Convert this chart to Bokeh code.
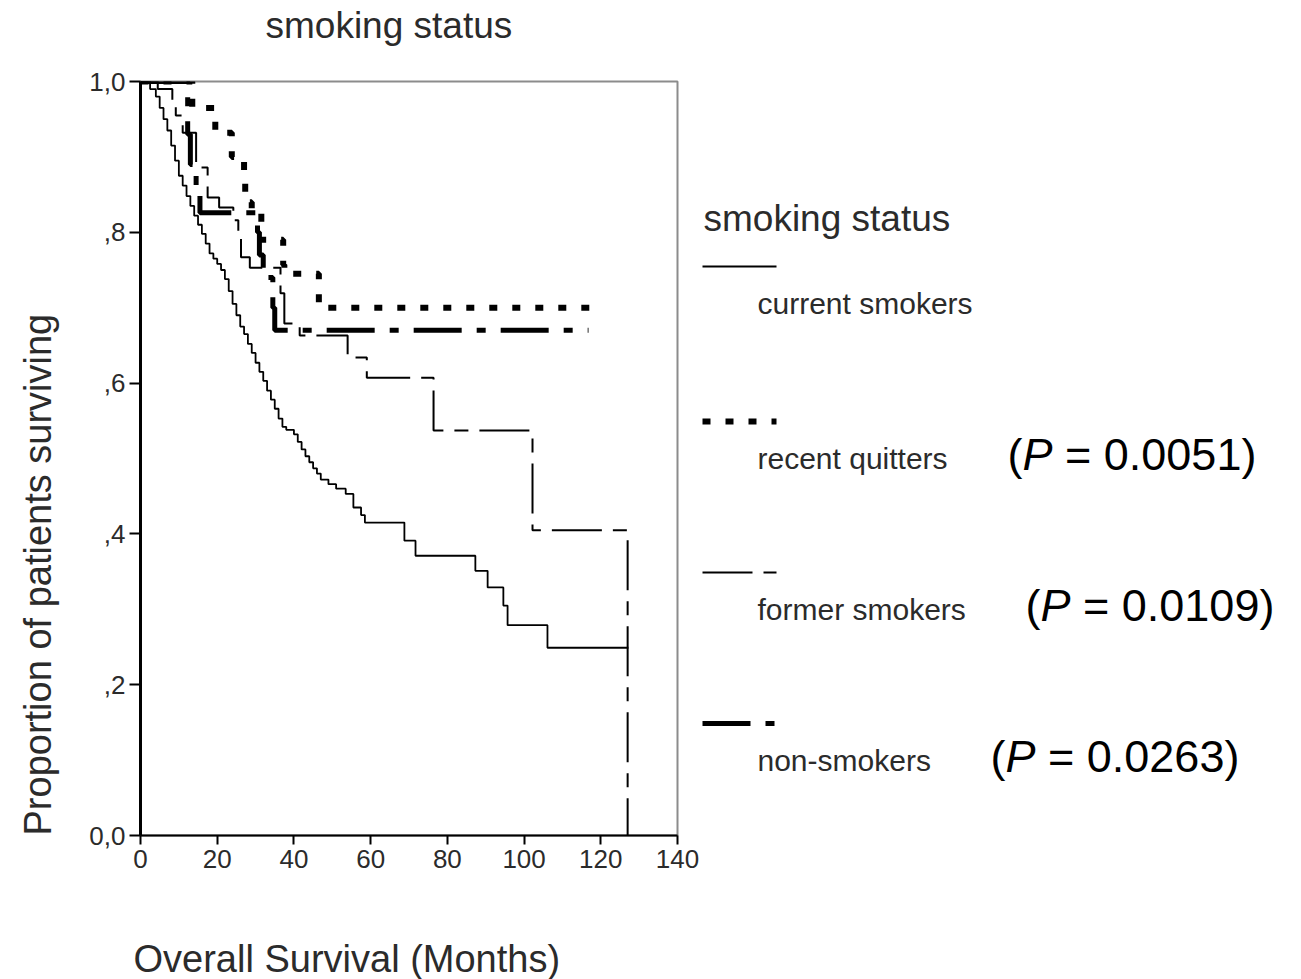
import math

from bokeh.embed import file_html
from bokeh.layouts import column, row
from bokeh.models import FixedTicker, Label, Range1d
from bokeh.plotting import figure
from bokeh.resources import INLINE

# ---------------------------------------------------------------------------
# Kaplan-Meier estimates by smoking status: step times (months) and the
# proportion surviving from that time on.
# ---------------------------------------------------------------------------
current_t = [0, 2.5, 4, 5, 6, 7, 8, 9, 10, 11, 12, 13, 14, 15, 16, 17, 18, 19,
             20, 21, 22, 23, 24, 25, 26, 27, 28, 29, 30, 31, 32, 33, 34, 35,
             36, 37, 38, 40, 41, 42, 43, 44, 45, 46, 47, 49, 51, 53.5, 55.5,
             57.5, 58.5, 68.8, 71.7, 87.3, 90.5, 94.6, 95.7, 106.1, 127.2]
current_s = [1.0, 0.99, 0.98, 0.965, 0.95, 0.935, 0.915, 0.895, 0.875, 0.862,
             0.848, 0.835, 0.822, 0.81, 0.798, 0.785, 0.772, 0.765, 0.758,
             0.75, 0.738, 0.722, 0.705, 0.69, 0.675, 0.665, 0.652, 0.64,
             0.627, 0.615, 0.603, 0.59, 0.578, 0.566, 0.553, 0.542, 0.538,
             0.532, 0.522, 0.512, 0.503, 0.495, 0.487, 0.48, 0.472, 0.466,
             0.46, 0.453, 0.435, 0.425, 0.415, 0.391, 0.371, 0.351, 0.329,
             0.305, 0.279, 0.249, 0.249]

quitters_t = [0, 13.5, 19.5, 23.8, 27.0, 27.3, 29.0, 31.5, 37.2, 37.5, 46.5, 117.2]
quitters_s = [1.0, 0.965, 0.932, 0.90, 0.869, 0.84, 0.826, 0.79, 0.757, 0.745, 0.70, 0.70]

former_t = [0, 4.5, 8.3, 9.2, 11, 14.5, 17.5, 20.5, 24.2, 25.5, 26.2, 28.5,
            36.5, 37.5, 41, 41.5, 54, 59, 76.4, 102.2, 127.0]
former_s = [1.0, 0.99, 0.97, 0.955, 0.932, 0.886, 0.846, 0.833, 0.816, 0.798,
            0.767, 0.753, 0.719, 0.679, 0.674, 0.663, 0.634, 0.607, 0.537,
            0.405, 0.0]

non_t = [0, 12.3, 13.0, 14.5, 15.5, 30.5, 31.0, 32.0, 34.5, 35.0, 116.8]
non_s = [1.0, 0.93, 0.89, 0.86, 0.826, 0.80, 0.77, 0.74, 0.70, 0.67, 0.67]

group_names = ["current smokers", "recent quitters", "former smokers", "non-smokers"]
p_values = [None, "0.0051", "0.0109", "0.0263"]

x_ticks = [0, 20, 40, 60, 80, 100, 120, 140]
x_tick_labels = ["0", "20", "40", "60", "80", "100", "120", "140"]
y_ticks = [0.0, 0.2, 0.4, 0.6, 0.8, 1.0]
y_tick_labels = ["0,0", ",2", ",4", ",6", ",8", "1,0"]

title_text = "smoking status"
x_label_text = "Overall Survival (Months)"
y_label_text = "Proportion of patients surviving"

# ---------------------------------------------------------------------------
# Page geometry (pixels, y downward)
# ---------------------------------------------------------------------------
PAGE_W, PAGE_H = 1301, 979
HEAD_H = 60                    # strip holding the plot title
ROW_BOTTOM = 890               # bottom of the row holding the plot
FOOT_H = PAGE_H - ROW_BOTTOM   # strip holding the x-axis label
ROW_H = ROW_BOTTOM - HEAD_H
YLAB_W = 75                    # strip holding the y-axis label
MAIN_RIGHT = 700               # right edge of the survival plot canvas
FRAME_L, FRAME_R, FRAME_T, FRAME_B = 140, 677, 81, 835
X_MAX, Y_MAX = 140, 1.0

BORDER_TOP = FRAME_T - HEAD_H
BORDER_BOTTOM = ROW_BOTTOM - FRAME_B

FONT = "Liberation Sans"
INK = "#2b2b2b"

# line styles shared by the curves and their legend samples
styles = {
    "current smokers": dict(line_width=1.8, line_dash="solid"),
    "recent quitters": dict(line_width=6, line_dash="8 15"),
    "former smokers": dict(line_width=2, line_dash="50 11 14 11"),
    "non-smokers": dict(line_width=5, line_dash="48 15 9 15"),
}


def blank_panel(width, height, x_range, y_range, **borders):
    """A figure without axes whose data units are page pixels."""
    f = figure(
        width=width, height=height, x_range=x_range, y_range=y_range,
        output_backend="svg", toolbar_location=None,
        x_axis_location=None, y_axis_location=None, **borders,
    )
    f.grid.visible = False
    f.outline_line_color = None
    f.border_fill_color = "white"
    f.background_fill_color = "white"
    return f


def text_label(x, y, text, size, color=INK, style="normal", angle=0.0):
    return Label(
        x=x, y=y, text=text, angle=angle, text_align="left",
        text_baseline="middle", text_font=FONT, text_font_size=size,
        text_font_style=style, text_color=color,
    )


row_borders = dict(min_border_left=0, min_border_right=0,
                   min_border_top=BORDER_TOP, min_border_bottom=BORDER_BOTTOM)

# ---------------------------------------------------------------------------
# Survival plot
# ---------------------------------------------------------------------------
p = figure(
    width=MAIN_RIGHT - YLAB_W, height=ROW_H,
    x_range=Range1d(0, X_MAX), y_range=Range1d(0, Y_MAX),
    output_backend="svg", toolbar_location=None,
    min_border_left=FRAME_L - YLAB_W, min_border_right=MAIN_RIGHT - FRAME_R,
    min_border_top=BORDER_TOP, min_border_bottom=BORDER_BOTTOM,
)
p.grid.visible = False
p.outline_line_color = "#8c8c8c"
p.outline_line_width = 2
p.background_fill_color = "white"
p.border_fill_color = "white"

p.xaxis.ticker = FixedTicker(ticks=x_ticks)
p.xaxis.major_label_overrides = dict(zip(x_ticks, x_tick_labels))
p.yaxis.ticker = FixedTicker(ticks=y_ticks)
p.yaxis.major_label_overrides = dict(zip(y_ticks, y_tick_labels))

for ax in (p.xaxis[0], p.yaxis[0]):
    ax.minor_tick_line_color = None
    ax.major_tick_in = 0
    ax.major_tick_line_color = "black"
    ax.major_tick_line_width = 2
    ax.axis_line_color = "black"
    ax.major_label_text_font = FONT
    ax.major_label_text_font_size = "26px"
    ax.major_label_text_color = INK
p.xaxis.axis_line_width = 2
p.xaxis.major_tick_out = 9
p.xaxis.major_label_standoff = 5
p.yaxis.axis_line_width = 3
p.yaxis.major_tick_out = 11
p.yaxis.major_label_standoff = 4

curves = [
    ("current smokers", current_t, current_s),
    ("former smokers", former_t, former_s),
    ("non-smokers", non_t, non_s),
    ("recent quitters", quitters_t, quitters_s),
]
for name, t, s in curves:
    p.step(t, s, mode="after", line_color="black", **styles[name])

# ---------------------------------------------------------------------------
# Title strip, y-label strip and x-label strip
# ---------------------------------------------------------------------------
head = blank_panel(PAGE_W, HEAD_H, Range1d(0, PAGE_W), Range1d(HEAD_H, 0),
                   min_border=0)
head.add_layout(text_label(265, 25, title_text, "37px"))

ylab = blank_panel(YLAB_W, ROW_H, Range1d(0, YLAB_W), Range1d(FRAME_B, FRAME_T),
                   **row_borders)
ylab.add_layout(text_label(37, FRAME_B, y_label_text, "38px", angle=math.pi / 2))

foot = blank_panel(PAGE_W, FOOT_H, Range1d(0, PAGE_W), Range1d(PAGE_H, ROW_BOTTOM),
                   min_border=0)
foot.add_layout(text_label(133, 958, x_label_text, "38px"))

# ---------------------------------------------------------------------------
# Legend panel with p-values
# ---------------------------------------------------------------------------
lg = blank_panel(PAGE_W - MAIN_RIGHT, ROW_H, Range1d(MAIN_RIGHT, PAGE_W),
                 Range1d(FRAME_B, FRAME_T), **row_borders)
lg.add_layout(text_label(703, 218, title_text, "37px"))

entry_rows = [266, 421, 572, 723]
sample_x0, sample_x1 = 702, 776
text_x, text_dy = 757, 37
pval_x = [None, 1007, 1025, 990]
PV_SIZE = 45

for name, ry, pv, px in zip(group_names, entry_rows, p_values, pval_x):
    lg.line([sample_x0, sample_x1], [ry, ry], line_color="black", **styles[name])
    lg.add_layout(text_label(text_x, ry + text_dy, name, "30px"))
    if pv is None:
        continue
    ty = ry + text_dy - 4
    paren_w = 0.333 * PV_SIZE
    p_w = 0.667 * PV_SIZE
    size = f"{PV_SIZE}px"
    lg.add_layout(text_label(px, ty, "(", size, color="black"))
    lg.add_layout(text_label(px + paren_w, ty, "P", size, color="black",
                             style="italic"))
    lg.add_layout(text_label(px + paren_w + p_w, ty, f"\u00a0= {pv})", size,
                             color="black"))

page = column(head, row(ylab, p, lg, spacing=0), foot, spacing=0)
open("out.html", "w").write(file_html(page, INLINE))
